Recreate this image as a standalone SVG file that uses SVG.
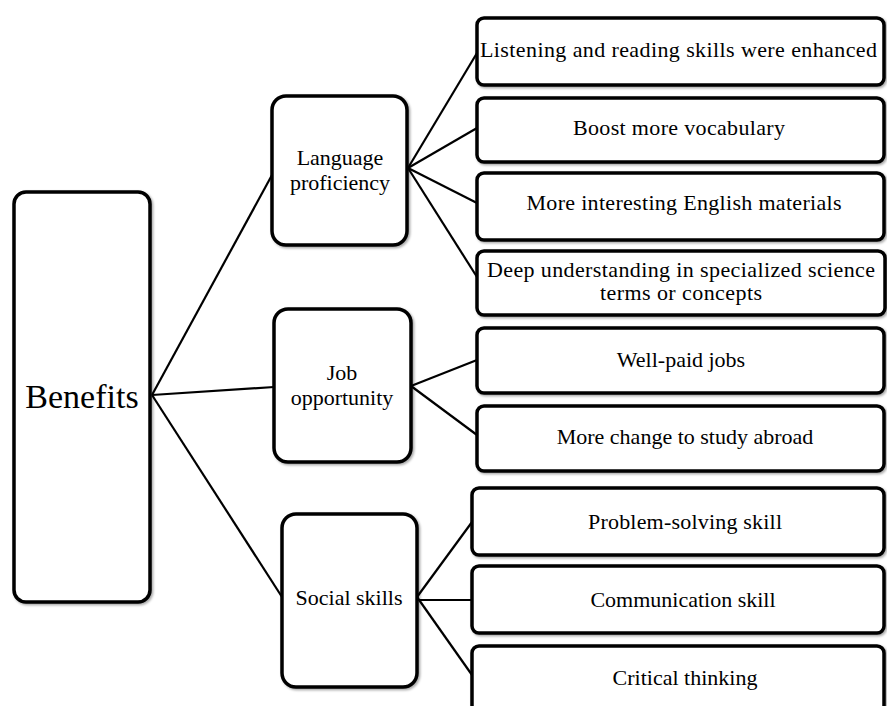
<svg xmlns="http://www.w3.org/2000/svg" width="887" height="706" viewBox="0 0 887 706">
<defs>
<filter id="sh" x="-5%" y="-5%" width="115%" height="115%">
<feDropShadow dx="1.5" dy="1.5" stdDeviation="1" flood-color="#000" flood-opacity="0.35"/>
</filter>
</defs>
<style>
.box{fill:#fff;stroke:#000;stroke-width:3.5;filter:url(#sh)}
.t{font-family:"Liberation Serif","Times New Roman",serif;font-size:22px;fill:#000;text-anchor:middle}
.big{font-size:34px}
.c line{stroke:#000;stroke-width:2.2}
</style>
<rect width="887" height="706" fill="#fff"/>
<g class="c" id="connectors">
<line x1="152" y1="395" x2="272" y2="175"/>
<line x1="152" y1="395" x2="274" y2="387"/>
<line x1="152" y1="395" x2="282" y2="597"/>
<line x1="408" y1="168" x2="477" y2="53"/>
<line x1="408" y1="168" x2="477" y2="128"/>
<line x1="408" y1="168" x2="477" y2="203"/>
<line x1="408" y1="168" x2="477" y2="277"/>
<line x1="411" y1="386" x2="477" y2="360"/>
<line x1="411" y1="386" x2="477" y2="435"/>
<line x1="417" y1="597" x2="472" y2="522"/>
<line x1="417" y1="600" x2="472" y2="600"/>
<line x1="417" y1="597" x2="472" y2="675"/>
</g>
<g id="benefits"><rect class="box" x="14" y="192" width="136" height="410" rx="12"/><text class="t big" x="82" y="408">Benefits</text></g>
<g id="language"><rect class="box" x="272" y="96" width="135" height="149" rx="14"/><text class="t" x="340" y="165">Language</text><text class="t" x="340" y="190">proficiency</text></g>
<g id="job"><rect class="box" x="274" y="309" width="137" height="153" rx="14"/><text class="t" x="342" y="380">Job</text><text class="t" x="342" y="405">opportunity</text></g>
<g id="social"><rect class="box" x="282" y="514" width="135" height="173" rx="14"/><text class="t" x="349" y="605">Social skills</text></g>
<g id="leaf1"><rect class="box" x="477" y="18" width="407" height="67" rx="7"/><text class="t" x="678.5" y="57" textLength="397" lengthAdjust="spacing">Listening and reading skills were enhanced</text></g>
<g id="leaf2"><rect class="box" x="477" y="98" width="407" height="64" rx="7"/><text class="t" x="679" y="135" textLength="212" lengthAdjust="spacing">Boost more vocabulary</text></g>
<g id="leaf3"><rect class="box" x="477" y="173" width="407" height="67" rx="7"/><text class="t" x="684" y="210" textLength="315" lengthAdjust="spacing">More interesting English materials</text></g>
<g id="leaf4"><rect class="box" x="477" y="251" width="408" height="64" rx="7"/><text class="t" x="681" y="277" textLength="388" lengthAdjust="spacing">Deep understanding in specialized science</text><text class="t" x="681" y="300" textLength="162" lengthAdjust="spacing">terms or concepts</text></g>
<g id="leaf5"><rect class="box" x="477" y="328" width="407" height="65" rx="7"/><text class="t" x="681" y="367">Well-paid jobs</text></g>
<g id="leaf6"><rect class="box" x="477" y="406" width="407" height="65" rx="7"/><text class="t" x="685" y="444">More change to study abroad</text></g>
<g id="leaf7"><rect class="box" x="472" y="488" width="412" height="67" rx="7"/><text class="t" x="685" y="529" textLength="194" lengthAdjust="spacing">Problem-solving skill</text></g>
<g id="leaf8"><rect class="box" x="472" y="566" width="412" height="67" rx="7"/><text class="t" x="683" y="607">Communication skill</text></g>
<g id="leaf9"><rect class="box" x="472" y="646" width="412" height="80" rx="7"/><text class="t" x="685" y="685">Critical thinking</text></g>
</svg>
